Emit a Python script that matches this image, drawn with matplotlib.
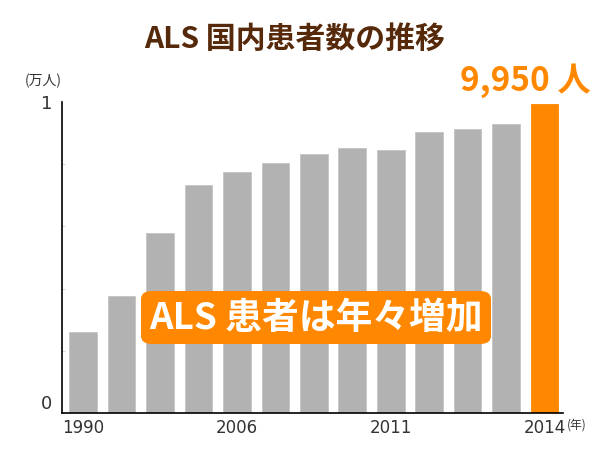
import matplotlib
matplotlib.use("Agg")
import matplotlib.pyplot as plt
from matplotlib.patches import FancyBboxPatch

plt.rcParams['font.family'] = ['DejaVu Sans', 'Noto Sans CJK JP']

# ALS patients in Japan (unit: 10,000 people)
years = ['1990', '', '', '', '2006', '', '', '', '2011', '', '', '', '2014']
patients = [0.260, 0.377, 0.579, 0.733, 0.775, 0.804, 0.833,
            0.852, 0.846, 0.904, 0.913, 0.929, 0.995]
latest_label = '9,950 人'

GRAY = '#b2b2b2'
ORANGE = '#ff8800'
BROWN = '#55290a'
TXT = '#333333'
CJK = ['Noto Sans CJK JP', 'DejaVu Sans']

fig = plt.figure(figsize=(6, 4.5), dpi=100)
ax = fig.add_axes([62/600, 1-413/450, 501/600, 311/450])

xs = list(range(len(patients)))
colors = [GRAY]*(len(patients)-1) + [ORANGE]
ax.bar(xs, patients, width=0.72, color=colors, edgecolor=['#c4c4c4']*(len(patients)-1)+[ORANGE], linewidth=0.6)

ax.set_xlim(-0.55, 12.48)
ax.set_ylim(0, 1)
for s in ['top', 'right']:
    ax.spines[s].set_visible(False)
ax.spines['left'].set_linewidth(1.2)
ax.spines['bottom'].set_linewidth(1.2)

ax.set_xticks(xs)
ax.set_xticklabels(years, fontsize=12, color=TXT)
ax.tick_params(axis='x', length=0, pad=4)
ax.set_yticks([0, 1])
ax.set_yticklabels(['0', '1'], fontsize=13, color=TXT)
ax.get_yticklabels()[0].set_va('bottom')
ax.set_yticks([0.2, 0.4, 0.6, 0.8], minor=True)
ax.tick_params(axis='y', which='major', length=0, pad=7)
ax.tick_params(axis='y', which='minor', direction='in', length=2, color='#cccccc')

# unit labels
fig.text(43/600, 1-81/450, '(万人)', fontsize=10, color=TXT, family=CJK, ha='center', va='center')
fig.text(567/600, 1-425/450, '(年)', fontsize=8.5, color=TXT, family=CJK, ha='left', va='center')

# title
fig.text(295/600, 1-39/450, 'ALS 国内患者数の推移', fontsize=21.5, fontweight='bold',
         color=BROWN, family=CJK, ha='center', va='center')

# latest value label
ax.annotate(latest_label, xy=(xs[-1], patients[-1]), xytext=(-14, 4), textcoords='offset points',
            ha='center', va='bottom', fontsize=24, fontweight='bold', color=ORANGE, family=CJK)

# callout box
box = FancyBboxPatch((141/600, 1-344/450), 350/600, 53/450, transform=fig.transFigure,
                     boxstyle='round,pad=0,rounding_size=0.018', facecolor=ORANGE,
                     edgecolor='none', zorder=5)
fig.patches.append(box)
fig.text(316/600, 1-318/450, 'ALS 患者は年々増加', fontsize=26.5, fontweight='bold',
         color='white', family=CJK, ha='center', va='center', zorder=6)

fig.savefig('out.png', dpi=100)
